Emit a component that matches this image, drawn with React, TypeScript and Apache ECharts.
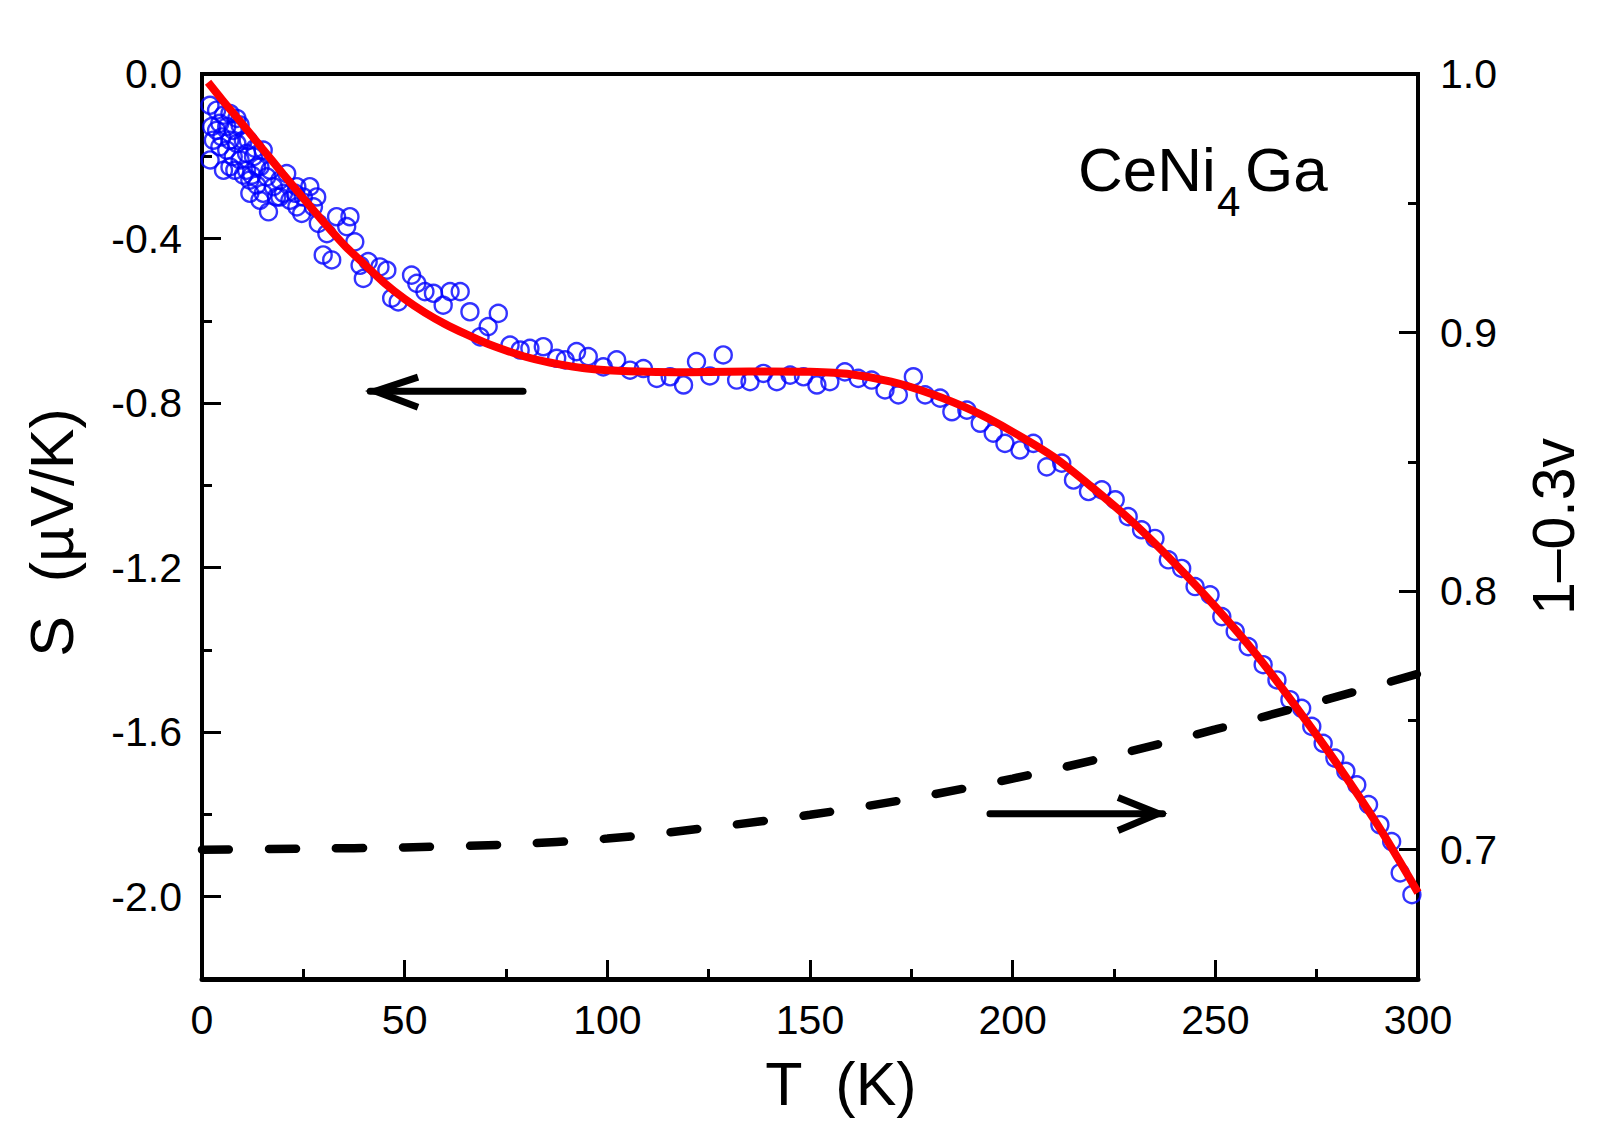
import React, { useEffect, useRef } from "react";
import * as echarts from "echarts";

const FONT = '"Liberation Sans", Arial, Helvetica, sans-serif';

// Measured S(T) points (open blue circles), T in K, S in µV/K
const scatterT = [
  1.97, 3.6, 5.3, 6.9, 8.6, 2.4, 3.6, 4.4, 6.1, 7.7, 9.4, 2.8, 4.9, 6.9, 8.6, 10.2,
  2.0, 6.1, 7.7, 9.4, 11.0, 12.7, 15.1, 14.3, 16.8, 8.1, 10.2, 11.8, 13.5, 16.0, 17.6,
  19.2, 20.9, 15.1, 16.4, 14.3, 18.4, 20.1, 21.7, 23.4, 24.6, 26.6, 28.3, 27.5, 28.7,
  30.8, 33.2, 36.5, 35.7, 37.7, 29.9, 32.0,
  4.4, 11.0, 12.3, 13.5, 11.4, 13.1, 6.9, 5.3, 11.8, 19.2, 23.4, 25.0, 23.0,
  39.0, 39.8, 41.0, 43.9, 45.6, 46.8, 48.4, 51.7, 53.0, 55.0, 57.1, 59.5, 61.2, 63.7,
  66.1, 68.6, 70.6, 73.1, 76.0, 78.5, 80.9, 84.2, 87.5, 89.6, 92.4, 95.3,
  99.0, 102.3, 105.6, 108.9, 112.2, 115.5, 118.8, 122.0, 125.3, 128.6, 131.9, 135.2,
  138.5, 141.8, 145.1, 148.4, 151.7, 154.9, 158.6, 161.9, 165.2, 168.5, 171.8, 175.5,
  178.4, 182.1, 185.0, 188.7, 192.0, 195.2,
  198.1, 201.8, 205.1, 208.4, 212.1, 215.0, 218.7, 222.0, 225.3, 228.5, 231.8, 235.1,
  238.4, 241.7, 245.0, 248.7, 251.6, 254.9, 258.1, 261.8, 265.2, 268.4, 271.3,
  273.8, 276.6, 279.5, 282.2, 284.9, 287.8, 290.6, 293.5, 295.6, 298.5,
];
const scatterS = [
  -0.076, -0.088, -0.1, -0.096, -0.108, -0.128, -0.137, -0.12, -0.128, -0.137, -0.124, -0.161, -0.153, -0.161, -0.169, -0.161,
  -0.209, -0.185, -0.201, -0.209, -0.193, -0.201, -0.185, -0.226, -0.234, -0.234, -0.246, -0.258, -0.27, -0.25, -0.274,
  -0.258, -0.242, -0.29, -0.335, -0.307, -0.299, -0.29, -0.307, -0.323, -0.339, -0.274, -0.299, -0.323, -0.363,
  -0.388, -0.347, -0.347, -0.371, -0.408, -0.44, -0.452,
  -0.177, -0.234, -0.246, -0.226, -0.161, -0.181, -0.226, -0.234, -0.29, -0.299, -0.274, -0.299, -0.29,
  -0.465, -0.497, -0.456, -0.469, -0.477, -0.545, -0.554, -0.489, -0.509, -0.529, -0.533, -0.562, -0.529, -0.529,
  -0.578, -0.639, -0.614, -0.582, -0.659, -0.671, -0.667, -0.663, -0.691, -0.695, -0.675, -0.687,
  -0.712, -0.695, -0.72, -0.716, -0.74, -0.736, -0.756, -0.699, -0.734, -0.683, -0.744, -0.748,
  -0.728, -0.748, -0.732, -0.736, -0.756, -0.748, -0.724, -0.74, -0.744, -0.768, -0.78, -0.736,
  -0.78, -0.788, -0.821, -0.817, -0.849, -0.873,
  -0.898, -0.914, -0.898, -0.955, -0.946, -0.987, -1.015, -1.011, -1.035, -1.076, -1.108, -1.129,
  -1.181, -1.202, -1.246, -1.266, -1.319, -1.355, -1.392, -1.436, -1.473, -1.521, -1.542,
  -1.586, -1.627, -1.663, -1.695, -1.728, -1.776, -1.825, -1.866, -1.942, -1.995,
];

// Fit curve (red solid), left axis
const fitT = [1.5, 5, 10, 15, 20, 25, 30, 35, 40, 45, 50, 55, 60, 65, 70, 75, 80, 85, 90, 95, 100,
  110, 120, 130, 140, 150, 160, 170, 180, 190, 200, 210, 220, 230, 240, 250, 260, 270, 280, 290, 300];
const fitS = [-0.02, -0.063, -0.122, -0.183, -0.243, -0.302, -0.36, -0.415, -0.462, -0.508, -0.547,
  -0.58, -0.608, -0.632, -0.654, -0.672, -0.688, -0.7, -0.709, -0.716, -0.72,
  -0.724, -0.725, -0.724, -0.723, -0.724, -0.73, -0.748, -0.778, -0.818, -0.87, -0.93, -1.008,
  -1.093, -1.19, -1.295, -1.41, -1.54, -1.677, -1.825, -1.99];

// 1-0.3v (black dashed), right axis
const valT = [0, 25, 50, 75, 100, 125, 150, 175, 200, 225, 250, 275, 300];
const valV = [0.7, 0.7004, 0.7009, 0.702, 0.7043, 0.7085, 0.7135, 0.7198, 0.7275, 0.7365, 0.7465, 0.757, 0.768];

// Axis ticks
const leftMajor = [0, -0.4, -0.8, -1.2, -1.6, -2.0];
const leftMinor = [-0.2, -0.6, -1.0, -1.4, -1.8];
const rightMajor = [0.7, 0.8, 0.9, 1.0];
const rightMinor = [0.75, 0.85, 0.95];

// Annotation arrows in data coordinates (T, S)
const arrowLeftShaft = [[79.2, -0.771], [41.5, -0.771]];
const arrowLeftHead = [[53.3, -0.737], [42.8, -0.771], [53.3, -0.81]];
const arrowRightShaft = [[194.4, -1.798], [237.0, -1.798]];
const arrowRightHead = [[226.0, -1.759], [235.9, -1.798], [226.0, -1.839]];

export default function App() {
  const ref = useRef<HTMLDivElement>(null);

  useEffect(() => {
    document.body.style.margin = "0";
    if (!ref.current) return;
    const chart = echarts.init(ref.current, undefined, { renderer: "svg" });

    const tickStyle = { color: "#000", width: 3 };
    const labelStyle = { fontSize: 41, color: "#000", fontFamily: FONT };
    const nameStyle = { fontSize: 61, color: "#000", fontFamily: FONT };

    chart.setOption({
      animation: false,
      backgroundColor: "#fff",
      grid: {
        left: 202, right: 190, top: 74, bottom: 158,
        show: true, borderColor: "#000", borderWidth: 4, backgroundColor: "transparent",
      },
      xAxis: {
        type: "value", min: 0, max: 300, interval: 50,
        axisLine: { show: true, onZero: false, lineStyle: { color: "#000", width: 5 } },
        axisTick: { show: true, inside: true, length: 19, lineStyle: tickStyle },
        minorTick: { show: true, splitNumber: 2, length: 10, lineStyle: tickStyle },
        axisLabel: { ...labelStyle, margin: 20 },
        splitLine: { show: false },
        minorSplitLine: { show: false },
        name: "T  (K)", nameLocation: "middle", nameGap: 74,
        nameTextStyle: { ...nameStyle, padding: [0, 0, 0, 62] },
      },
      yAxis: [
        {
          type: "value", position: "left", min: -2.2, max: 0,
          axisLine: { show: true, onZero: false, lineStyle: { color: "#000", width: 4 } },
          axisTick: { show: true, inside: true, length: 19, lineStyle: tickStyle, customValues: leftMajor },
          axisLabel: { ...labelStyle, margin: 20, customValues: leftMajor, formatter: (v: number) => v.toFixed(1) },
          splitLine: { show: false },
          name: "S  (µV/K)", nameLocation: "middle", nameGap: 120, nameRotate: 90,
          nameTextStyle: { ...nameStyle, padding: [0, 12, 0, 0] },
        },
        {
          type: "value", position: "left", min: -2.2, max: 0,
          axisLine: { show: false },
          axisTick: { show: true, inside: true, length: 10, lineStyle: tickStyle, customValues: leftMinor },
          axisLabel: { show: false },
          splitLine: { show: false },
        },
        {
          type: "value", position: "right", min: 0.65, max: 1.0,
          axisLine: { show: true, onZero: false, lineStyle: { color: "#000", width: 4 } },
          axisTick: { show: true, inside: true, length: 19, lineStyle: tickStyle, customValues: rightMajor },
          axisLabel: { ...labelStyle, margin: 22, customValues: rightMajor, formatter: (v: number) => v.toFixed(1) },
          splitLine: { show: false },
          name: "1–0.3v", nameLocation: "middle", nameGap: 106, nameRotate: 90,
          nameTextStyle: { ...nameStyle, fontSize: 59 },
        },
        {
          type: "value", position: "right", min: 0.65, max: 1.0,
          axisLine: { show: false },
          axisTick: { show: true, inside: true, length: 10, lineStyle: tickStyle, customValues: rightMinor },
          axisLabel: { show: false },
          splitLine: { show: false },
        },
      ],
      series: [
        {
          type: "scatter", xAxisIndex: 0, yAxisIndex: 0,
          data: scatterT.map((t, i) => [t, scatterS[i]]),
          symbol: "circle", symbolSize: 17,
          itemStyle: { color: "rgba(0,0,0,0)", borderColor: "#0000FF", borderWidth: 2.4 },
          z: 2,
        },
        {
          type: "line", xAxisIndex: 0, yAxisIndex: 0,
          data: fitT.map((t, i) => [t, fitS[i]]),
          symbol: "none", smooth: 0.3,
          lineStyle: { color: "#FF0000", width: 8 },
          z: 3,
        },
        {
          type: "line", xAxisIndex: 0, yAxisIndex: 2,
          data: valT.map((t, i) => [t, valV[i]]),
          symbol: "none", smooth: 0.3,
          lineStyle: { color: "#000", width: 8.5, type: [27, 40], cap: "round" },
          z: 4,
        },
      ],
    });

    const px = (p: number[]) => chart.convertToPixel({ xAxisIndex: 0, yAxisIndex: 0 }, p) as number[];
    const arrowStyle = { stroke: "#000", lineWidth: 7, fill: "none", lineCap: "round", lineJoin: "miter" };

    chart.setOption({
      graphic: [
        { type: "polyline", shape: { points: arrowLeftShaft.map(px) }, style: arrowStyle, z: 10 },
        { type: "polyline", shape: { points: arrowLeftHead.map(px) }, style: { ...arrowStyle, lineCap: "butt" }, z: 10 },
        { type: "polyline", shape: { points: arrowRightShaft.map(px) }, style: arrowStyle, z: 10 },
        { type: "polyline", shape: { points: arrowRightHead.map(px) }, style: { ...arrowStyle, lineCap: "butt" }, z: 10 },
        { type: "text", x: 1078, y: 169, style: { text: "CeNi", fontSize: 62, fontFamily: FONT, fill: "#000", align: "left", verticalAlign: "middle" }, z: 10 },
        { type: "text", x: 1217, y: 201, style: { text: "4", fontSize: 42, fontFamily: FONT, fill: "#000", align: "left", verticalAlign: "middle" }, z: 10 },
        { type: "text", x: 1245, y: 169, style: { text: "Ga", fontSize: 62, fontFamily: FONT, fill: "#000", align: "left", verticalAlign: "middle" }, z: 10 },
      ],
    });

    return () => chart.dispose();
  }, []);

  return <div ref={ref} style={{ width: 1608, height: 1137 }} />;
}
